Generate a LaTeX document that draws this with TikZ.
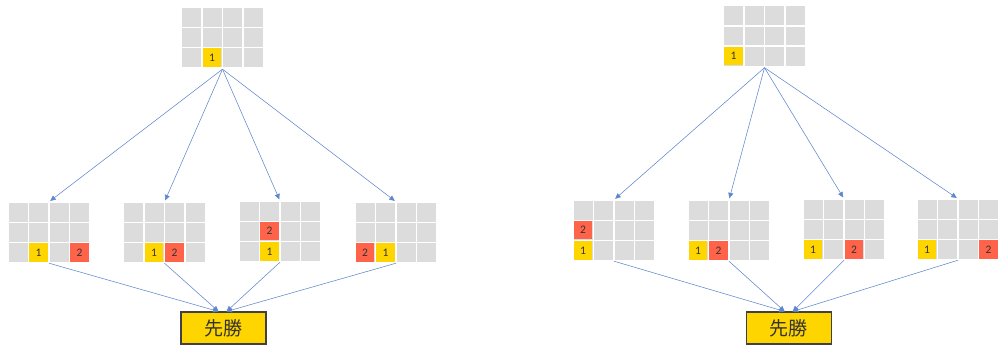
\documentclass[tikz,border=0pt]{standalone}
\usepackage{fontspec}
\usetikzlibrary{arrows.meta}
\newfontfamily\numfont{Carlito}
\newfontfamily\jpfont{Noto Sans CJK JP}
\definecolor{cellgray}{HTML}{DCDCDC}
\definecolor{moveyel}{HTML}{FFD500}
\definecolor{movered}{HTML}{FF6349}
\definecolor{linkblue}{HTML}{4472C4}
\tikzset{
  board/.style={inner sep=0pt, minimum width=82pt, minimum height=61pt},
  cell/.style={fill=cellgray, draw=white, line width=1.6pt},
  moveone/.style={fill=moveyel, inner sep=0pt, minimum width=18.5pt, minimum height=18.3pt, font=\numfont\fontsize{11.5}{11.5}\selectfont, text=black!80},
  movetwo/.style={moveone, fill=movered},
  link/.style={draw=linkblue!85, line width=0.55pt, -{Triangle[length=5.5pt,width=5pt]}},
  winbox/.style={fill=moveyel, draw=black!75, line width=1.1pt, minimum width=85pt, minimum height=32pt, inner sep=0pt, font=\jpfont\fontsize{19}{19}\selectfont, text=black!80},
}
\begin{document}
\begin{tikzpicture}[x=1pt, y=-1pt]
\useasboundingbox (0,0) rectangle (998,349);
\foreach \b/\x/\y in {L0/181.5/7, L1/8/202, L2/123.5/202, L3/239/201, L4/355/202,
                      R0/723.5/5.5, R1/573/200, R2/688/200, R3/803/199, R4/917/199} {
  \node[board] (\b) at (\x+41,\y+30.5) {};
  \foreach \c in {0,...,3}
    \foreach \r in {0,1,2}
      \draw[cell] (\x+20.5*\c,\y+20.3*\r) rectangle ++(20.5,20.3);
}
\foreach \b/\c/\r/\n/\s in {L0/1/2/1/moveone,
    L1/1/2/1/moveone, L1/3/2/2/movetwo, L2/1/2/1/moveone, L2/2/2/2/movetwo,
    L3/1/2/1/moveone, L3/1/1/2/movetwo, L4/1/2/1/moveone, L4/0/2/2/movetwo,
    R0/0/2/1/moveone,
    R1/0/2/1/moveone, R1/0/1/2/movetwo, R2/0/2/1/moveone, R2/1/2/2/movetwo,
    R3/0/2/1/moveone, R3/2/2/2/movetwo, R4/0/2/1/moveone, R4/3/2/2/movetwo}
  \node[\s] (\b-\n) at ([shift={(20.5*\c+10.25,20.3*\r+10.15)}]\b.north west) {\n};
\node[winbox] (LW) at (223.5,328) {先勝};
\node[winbox] (RW) at (788.7,328) {先勝};
\foreach \t in {L1,L2,L3,L4}
  \draw[link, shorten >=1.5pt] ([yshift=-1pt]L0.south) -- (\t.north);
\foreach \t in {R1,R2,R3,R4}
  \draw[link, shorten >=1.5pt] ([yshift=-1pt]R0.south) -- (\t.north);
\draw[link] (L1.south) -- ([xshift=-5pt]LW.north);
\draw[link] (L2.south) -- ([xshift=-5pt]LW.north);
\draw[link] (L3.south) -- ([xshift=3pt]LW.north);
\draw[link] (L4.south) -- ([xshift=3pt]LW.north);
\draw[link] (R1.south) -- ([xshift=-4pt]RW.north);
\draw[link] (R2.south) -- ([xshift=-4pt]RW.north);
\draw[link] (R3.south) -- ([xshift=4pt]RW.north);
\draw[link] (R4.south) -- ([xshift=4pt]RW.north);
\end{tikzpicture}
\end{document}
